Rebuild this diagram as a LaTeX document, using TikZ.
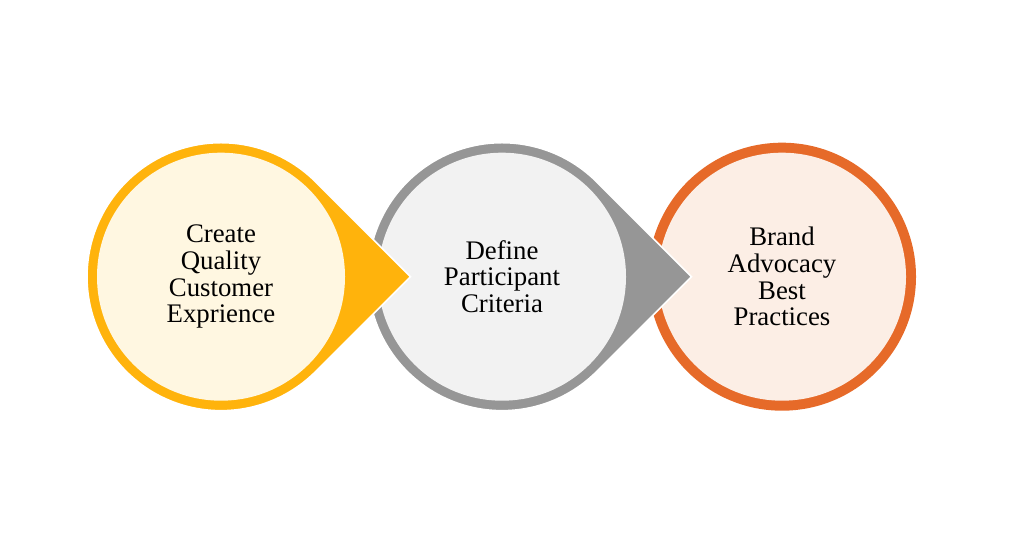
\documentclass[tikz,border=0pt]{standalone}
\usepackage{fontspec}
\setmainfont{Liberation Serif}
\usepackage{tikz}
\definecolor{advyellow}{HTML}{FFB30C}
\definecolor{advyellowlt}{HTML}{FFF7E1}
\definecolor{advgray}{HTML}{969696}
\definecolor{advgraylt}{HTML}{F2F2F2}
\definecolor{advorange}{HTML}{E66A29}
\definecolor{advorangelt}{HTML}{FCEEE5}

\tikzset{
  drop/.style={draw=white, line width=1.6pt},
  disc/.style={circle, minimum size=248pt, inner sep=0pt, align=center,
    text=black, font=\fontsize{26.8}{26.7}\selectfont}
}

\begin{document}
\begin{tikzpicture}[x=1pt, y=1pt]
  \useasboundingbox (0,0) rectangle (1024,537);
  % third step, plain ring
  \fill[advorange] (782,260.3) circle (134);
  \node[disc, fill=advorangelt] (brand) at (782,260.3) {Brand\\Advocacy\\Best\\Practices};
  % second step, drop pointing right
  \filldraw[drop, fill=advgray] (502,260.3) ++(45:134) arc[start angle=45, end angle=315, radius=134]
    -- (691.5,260.3) -- cycle;
  \node[disc, fill=advgraylt] (define) at (502,260.3) {Define\\Participant\\Criteria};
  % first step
  \filldraw[drop, fill=advyellow] (221,260.3) ++(45:134) arc[start angle=45, end angle=315, radius=134]
    -- (410.5,260.3) -- cycle;
  \node[disc, fill=advyellowlt] (create) at (221,260.3) {Create\\Quality\\Customer\\Exprience};
\end{tikzpicture}
\end{document}
